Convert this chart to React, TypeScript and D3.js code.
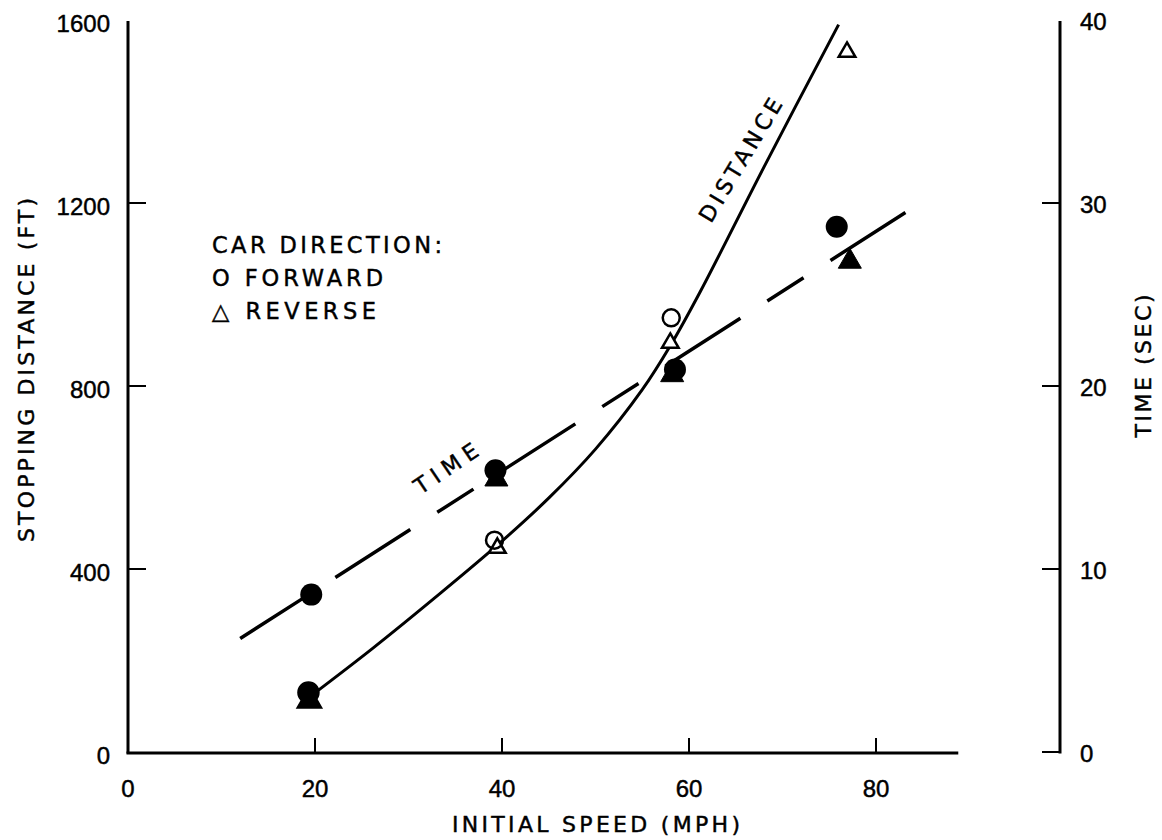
import React from "react";
import * as d3 from "d3";

// ---- data ----
const speedTicks = [0, 20, 40, 60, 80];
const distanceTicks = [0, 400, 800, 1200, 1600];
const timeTicks = [0, 10, 20, 30, 40];

// fitted distance curve (mph, ft)
const distCurveSpeed = [19.4, 26.2, 33, 39.5, 45.1, 50, 55, 58, 61.2, 68, 76];
const distCurveFt = [120, 227, 340, 452, 557, 662, 792, 888, 1006, 1278, 1590];

// fitted time line (mph, sec)
const timeLineSpeed = [12, 83.2];
const timeLineSec = [6.2, 29.5];

// measured points — stopping distance (open markers)
const distCircleSpeed = [19.3, 39.2, 58.1];
const distCircleFt = [130, 463, 949];
const distCircleSolid = [true, false, false];
const distTriSpeed = [19.4, 39.5, 58.0, 76.9];
const distTriFt = [112, 446, 894, 1530];
const distTriSolid = [true, false, false, false];

// measured points — stopping time (filled markers)
const timeCircleSpeed = [19.6, 39.3, 58.5, 75.8];
const timeCircleSec = [8.6, 15.4, 20.9, 28.7];
const timeTriSpeed = [39.4, 58.2, 77.2];
const timeTriSec = [14.9, 20.6, 26.8];

const FONT = "'Liberation Sans', Arial, Helvetica, sans-serif";
const WIDE = "'DejaVu Sans', 'Liberation Sans', Arial, sans-serif";

export default function App() {
  const x = d3.scaleLinear().domain([0, 90]).range([128, 128 + 9.35 * 90]);
  const yD = d3.scaleLinear().domain([0, 1600]).range([752, 20]);
  const yT = d3.scaleLinear().domain([0, 40]).range([752, 20]);

  const distLine = d3
    .line<number>()
    .x((_, i) => x(distCurveSpeed[i]))
    .y((d) => yD(d))
    .curve(d3.curveCatmullRom.alpha(0.5))(distCurveFt) as string;

  const timeLine = d3
    .line<number>()
    .x((_, i) => x(timeLineSpeed[i]))
    .y((d) => yT(d))(timeLineSec) as string;

  const bigTri = d3.symbol(d3.symbolTriangle, 230)() as string;
  const smallTri = d3.symbol(d3.symbolTriangle, 120)() as string;

  const xAxisEnd = x(88.8);
  const xRight = 1060;
  const ink = "#000";
  const textInk = { fill: ink, stroke: ink, strokeWidth: 0.45 };

  return (
    <svg
      width={1162}
      height={840}
      style={{ position: "absolute", left: 0, top: 0, background: "#fff" }}
      fontFamily={FONT}
    >
      <rect width={1162} height={840} fill="#fff" />

      {/* axes */}
      <line x1={x(0)} y1={yD(1600) + 1} x2={x(0)} y2={yD(0) + 1.5} stroke={ink} strokeWidth={3} />
      <line x1={x(0) - 1.5} y1={yD(0) + 1} x2={xAxisEnd} y2={yD(0) + 1} stroke={ink} strokeWidth={3} />
      <line x1={xRight} y1={yT(40) + 1} x2={xRight} y2={yT(0) + 1.5} stroke={ink} strokeWidth={3} />

      {/* left ticks + labels */}
      {distanceTicks.map((t) => (
        <g key={"d" + t}>
          {t > 0 && t < 1600 && (
            <line x1={x(0)} x2={x(0) + 18} y1={yD(t)} y2={yD(t)} stroke={ink} strokeWidth={2} />
          )}
          <text x={110} y={yD(t) + 12} fontSize={24} textAnchor="end" {...textInk}>
            {t}
          </text>
        </g>
      ))}

      {/* right ticks + labels */}
      {timeTicks.map((t) => (
        <g key={"t" + t}>
          {t < 40 && (
            <line x1={xRight - 18} x2={xRight} y1={yT(t)} y2={yT(t)} stroke={ink} strokeWidth={2} />
          )}
          <text x={1080} y={yT(t) + 10} fontSize={24} textAnchor="start" {...textInk}>
            {t}
          </text>
        </g>
      ))}

      {/* bottom ticks + labels */}
      {speedTicks.map((t) => (
        <g key={"s" + t}>
          {t > 0 && (
            <line x1={x(t)} x2={x(t)} y1={yD(0)} y2={yD(0) - 14} stroke={ink} strokeWidth={2} />
          )}
          <text x={x(t)} y={797} fontSize={24} textAnchor="middle" {...textInk}>
            {t}
          </text>
        </g>
      ))}

      {/* axis titles */}
      <text
        x={596}
        y={832}
        fontSize={22}
        fontFamily={WIDE}
        textAnchor="middle"
        textLength={288}
        lengthAdjust="spacing"
        {...textInk}
      >
        INITIAL SPEED (MPH)
      </text>
      <text
        transform="translate(34,370) rotate(-90)"
        fontSize={22}
        fontFamily={WIDE}
        textAnchor="middle"
        textLength={344}
        lengthAdjust="spacing"
        {...textInk}
      >
        STOPPING DISTANCE (FT)
      </text>
      <text
        transform="translate(1151,366) rotate(-90)"
        fontSize={22}
        fontFamily={WIDE}
        textAnchor="middle"
        textLength={143}
        lengthAdjust="spacing"
        {...textInk}
      >
        TIME (SEC)
      </text>

      {/* legend */}
      <text x={212} y={253} fontSize={22.5} fontFamily={WIDE} textLength={230} lengthAdjust="spacing" {...textInk}>
        CAR DIRECTION:
      </text>
      <text x={212} y={286} fontSize={22.5} fontFamily={WIDE} textLength={171} lengthAdjust="spacing" {...textInk}>
        O FORWARD
      </text>
      <text x={212} y={319} fontSize={22.5} fontFamily={WIDE} textLength={164} lengthAdjust="spacing" {...textInk}>
        △ REVERSE
      </text>

      {/* curves */}
      <path d={distLine} fill="none" stroke={ink} strokeWidth={3} />
      <path
        d={timeLine}
        fill="none"
        stroke={ink}
        strokeWidth={3.5}
        strokeDasharray="74 39 89 32 43 32 89 32 43 32 89 32 43 32 89 32 43 32 100"
      />

      {/* curve labels */}
      <text
        transform="translate(447,470) rotate(-34)"
        fontSize={22}
        fontFamily={WIDE}
        textAnchor="middle"
        dominantBaseline="middle"
        textLength={72}
        lengthAdjust="spacing"
        {...textInk}
      >
        TIME
      </text>
      <text
        transform="translate(742,161) rotate(-59)"
        fontSize={22}
        fontFamily={WIDE}
        textAnchor="middle"
        dominantBaseline="middle"
        textLength={140}
        lengthAdjust="spacing"
        {...textInk}
      >
        DISTANCE
      </text>

      {/* distance markers */}
      {distTriSpeed.map((s, i) => (
        <path
          key={"dt" + i}
          d={distTriSolid[i] ? bigTri : smallTri}
          transform={`translate(${x(s)},${yD(distTriFt[i])})`}
          fill={distTriSolid[i] ? ink : "#fff"}
          stroke={ink}
          strokeWidth={2.5}
        />
      ))}
      {distCircleSpeed.map((s, i) => (
        <circle
          key={"dc" + i}
          cx={x(s)}
          cy={yD(distCircleFt[i])}
          r={distCircleSolid[i] ? 10 : 8.5}
          fill={distCircleSolid[i] ? ink : "none"}
          stroke={ink}
          strokeWidth={2.5}
        />
      ))}

      {/* time markers */}
      {timeTriSpeed.map((s, i) => (
        <path
          key={"tt" + i}
          d={bigTri}
          transform={`translate(${x(s)},${yT(timeTriSec[i])})`}
          fill={ink}
          stroke={ink}
          strokeWidth={1}
        />
      ))}
      {timeCircleSpeed.map((s, i) => (
        <circle key={"tc" + i} cx={x(s)} cy={yT(timeCircleSec[i])} r={11} fill={ink} />
      ))}
    </svg>
  );
}
